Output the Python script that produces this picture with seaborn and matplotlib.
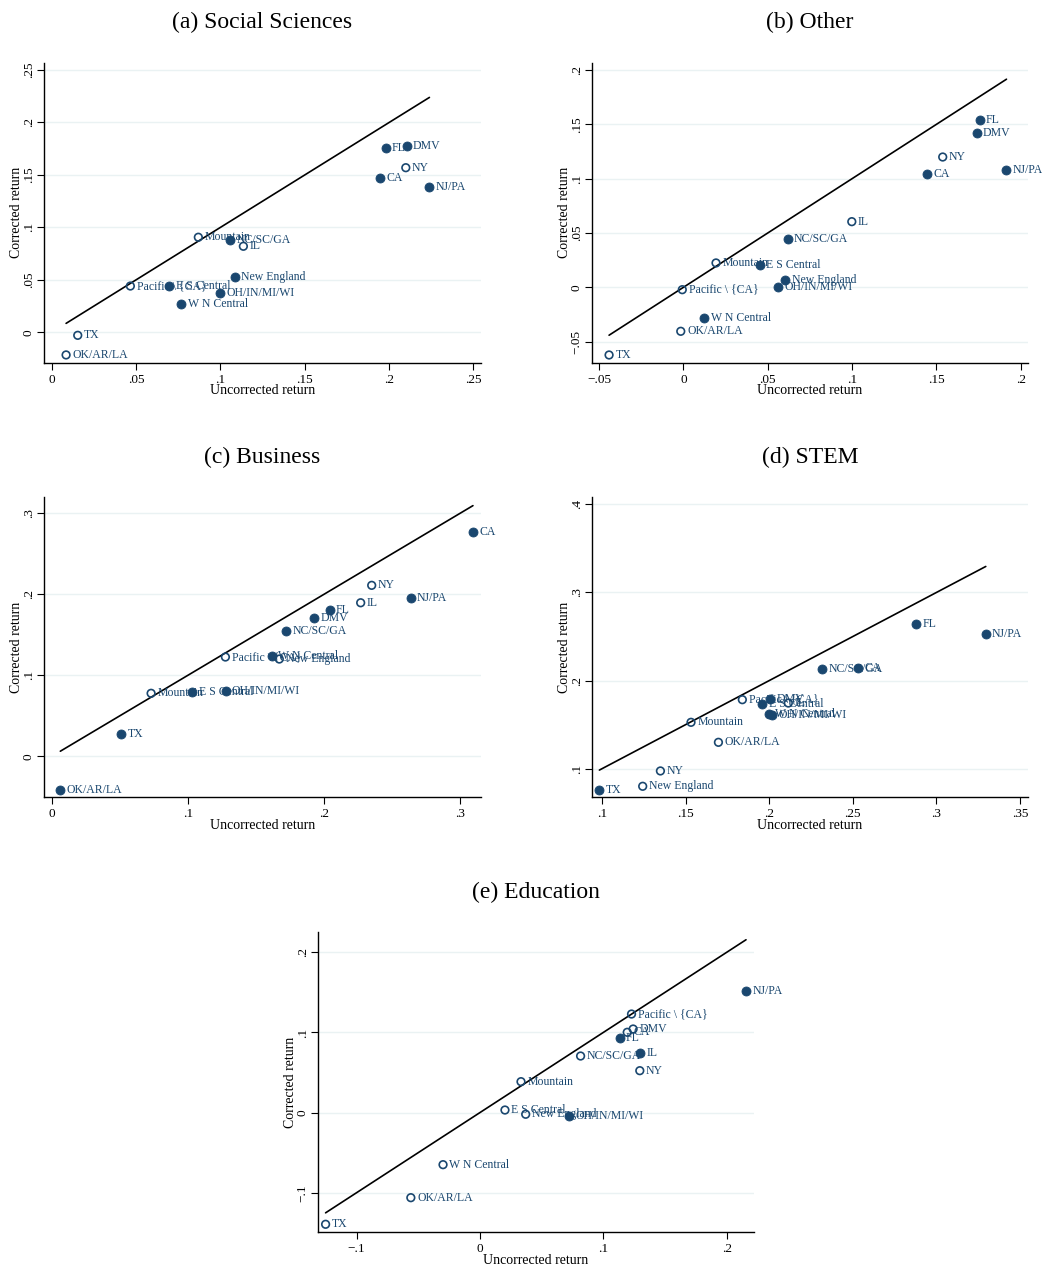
import matplotlib
matplotlib.use("Agg")
import matplotlib.pyplot as plt
from matplotlib.ticker import FixedLocator, FuncFormatter
import numpy as np
import pandas as pd
import seaborn as sns

sns.set_theme(style="white")
plt.rcParams["font.family"] = ["Liberation Serif", "DejaVu Serif"]

NAVY = "#1a476f"

# Region labels shared by all panels
regions = ["FL", "DMV", "NY", "CA", "NJ/PA", "Mountain", "NC/SC/GA", "IL",
           "New England", "Pacific \\ {CA}", "E S Central", "OH/IN/MI/WI",
           "W N Central", "TX", "OK/AR/LA"]

# (a) Social Sciences
soc_unc = [0.198, 0.2105, 0.2099, 0.1945, 0.2239, 0.0869, 0.1057, 0.1136,
           0.1087, 0.0466, 0.0697, 0.1000, 0.0769, 0.0154, 0.0085]
soc_cor = [0.1754, 0.1776, 0.1569, 0.1474, 0.1388, 0.0906, 0.0883, 0.0820,
           0.0527, 0.0441, 0.0441, 0.0372, 0.0267, -0.0029, -0.0216]
soc_sig = [1, 1, 0, 1, 1, 0, 1, 0, 1, 0, 1, 1, 1, 0, 0]

# (b) Other
oth_unc = [0.1757, 0.1739, 0.1537, 0.1446, 0.1915, 0.0193, 0.0618, 0.0998,
           0.0604, -0.0007, 0.0454, 0.0561, 0.0124, -0.0441, -0.0016]
oth_cor = [0.1537, 0.1417, 0.1199, 0.1043, 0.1082, 0.0224, 0.0444, 0.0604,
           0.0070, -0.0022, 0.0205, 0.0006, -0.0285, -0.0623, -0.0405]
oth_sig = [1, 1, 0, 1, 1, 0, 1, 0, 1, 0, 1, 1, 1, 0, 0]

# (c) Business
bus_unc = [0.2042, 0.1927, 0.2351, 0.3095, 0.2638, 0.0730, 0.1724, 0.2270,
           0.1672, 0.1276, 0.1033, 0.1278, 0.1619, 0.0511, 0.0063]
bus_cor = [0.1806, 0.1708, 0.2111, 0.2765, 0.1951, 0.0778, 0.1547, 0.1896,
           0.1201, 0.1226, 0.0790, 0.0802, 0.1242, 0.0276, -0.0416]
bus_sig = [1, 1, 0, 1, 1, 0, 1, 0, 0, 0, 1, 1, 1, 1, 1]

# (d) STEM
stem_unc = [0.2878, 0.2005, 0.1349, 0.2531, 0.3295, 0.1532, 0.2318, 0.2114,
            0.1243, 0.1839, 0.1959, 0.2019, 0.1999, 0.0984, 0.1696]
stem_cor = [0.2642, 0.1791, 0.0974, 0.2146, 0.2532, 0.1526, 0.2128, 0.1745,
            0.0800, 0.1783, 0.1738, 0.1606, 0.1624, 0.0758, 0.1299]
stem_sig = [1, 1, 0, 1, 1, 0, 1, 0, 0, 0, 1, 1, 1, 1, 0]

# (e) Education
edu_unc = [0.1134, 0.1242, 0.1296, 0.1194, 0.2157, 0.0333, 0.0816, 0.1299,
           0.0371, 0.1229, 0.0203, 0.0724, -0.0299, -0.1251, -0.0560]
edu_cor = [0.0931, 0.1043, 0.0523, 0.1002, 0.1514, 0.0386, 0.0706, 0.0748,
           -0.0021, 0.1230, 0.0032, -0.0039, -0.0650, -0.1394, -0.1062]
edu_sig = [1, 0, 0, 0, 1, 0, 0, 1, 0, 0, 0, 1, 0, 0, 0]

panels = [
    ("(a) Social Sciences", soc_unc, soc_cor, soc_sig,
     (-0.0046, 0.2543), (-0.029, 0.257),
     [0, 0.05, 0.1, 0.15, 0.2, 0.25], [0, 0.05, 0.1, 0.15, 0.2, 0.25],
     (44, 62.7)),
    ("(b) Other", oth_unc, oth_cor, oth_sig,
     (-0.0544, 0.2045), (-0.0694, 0.2067),
     [-0.05, 0, 0.05, 0.1, 0.15, 0.2], [-0.05, 0, 0.05, 0.1, 0.15, 0.2],
     (591.7, 62.7)),
    ("(c) Business", bus_unc, bus_cor, bus_sig,
     (-0.0057, 0.3152), (-0.0506, 0.3198),
     [0, 0.1, 0.2, 0.3], [0, 0.1, 0.2, 0.3],
     (44, 497.3)),
    ("(d) STEM", stem_unc, stem_cor, stem_sig,
     (0.0938, 0.355), (0.0675, 0.408),
     [0.1, 0.15, 0.2, 0.25, 0.3, 0.35], [0.1, 0.2, 0.3, 0.4],
     (591.7, 497.3)),
    ("(e) Education", edu_unc, edu_cor, edu_sig,
     (-0.1315, 0.2225), (-0.1494, 0.225),
     [-0.1, 0, 0.1, 0.2], [-0.1, 0, 0.1, 0.2],
     (317.7, 932.3)),
]

W, H = 1042, 1266
AX_W, AX_H = 436.7, 300.0


def stata_fmt(v, pos=None):
    if abs(v) < 1e-12:
        return "0"
    s = f"{abs(v):g}"
    if s.startswith("0."):
        s = s[1:]
    return ("\u2212" + s) if v < 0 else s


fig = plt.figure(figsize=(W / 100, H / 100), dpi=100)

for title, unc, cor, sig, xlim, ylim, xt, yt, (left, top) in panels:
    ax = fig.add_axes([left / W, 1 - (top + AX_H) / H, AX_W / W, AX_H / H])
    df = pd.DataFrame({"region": regions, "unc": unc, "cor": cor,
                       "sig": sig})

    # 45-degree reference line across the range of uncorrected returns
    lo, hi = df["unc"].min(), df["unc"].max()
    ref = pd.DataFrame({"x": [lo, hi], "y": [lo, hi]})
    sns.lineplot(data=ref, x="x", y="y", ax=ax, color="black",
                 linewidth=1.2, zorder=2)

    filled = df[df["sig"] == 1]
    hollow = df[df["sig"] == 0]
    sns.scatterplot(data=filled, x="unc", y="cor", ax=ax, s=42,
                    color=NAVY, edgecolor=NAVY, linewidth=0.6, zorder=3)
    sns.scatterplot(data=hollow, x="unc", y="cor", ax=ax, s=30,
                    facecolor="none", edgecolor=NAVY, linewidth=1.2,
                    zorder=3)

    for _, r in df.iterrows():
        ax.annotate(r["region"], (r["unc"], r["cor"]),
                    xytext=(4.5, 0), textcoords="offset points",
                    ha="left", va="center", fontsize=8.5, color=NAVY,
                    zorder=4, annotation_clip=False)

    ax.set_xlim(*xlim)
    ax.set_ylim(*ylim)
    ax.xaxis.set_major_locator(FixedLocator(xt))
    ax.yaxis.set_major_locator(FixedLocator(yt))
    ax.xaxis.set_major_formatter(FuncFormatter(stata_fmt))
    ax.yaxis.set_major_formatter(FuncFormatter(stata_fmt))
    ax.tick_params(axis="x", which="major", direction="out", length=5,
                   width=0.8, color="black", labelsize=9.5, pad=3,
                   bottom=True, labelcolor="black")
    ax.tick_params(axis="y", which="major", direction="out", length=5,
                   width=0.8, color="black", labelsize=9.5, pad=1.5,
                   left=True, labelcolor="black")
    for lab in ax.get_yticklabels():
        lab.set_rotation(90)
        lab.set_va("center")

    ax.yaxis.grid(True, color="#eaf2f3", linewidth=1.0, zorder=0)
    ax.xaxis.grid(False)
    ax.set_axisbelow(True)
    for side in ("top", "right"):
        ax.spines[side].set_visible(False)
    for side in ("left", "bottom"):
        ax.spines[side].set_color("black")
        ax.spines[side].set_linewidth(1.0)

    ax.set_xlabel("Uncorrected return", fontsize=10, labelpad=-1,
                  color="black")
    ax.set_ylabel("Corrected return", fontsize=10, labelpad=0,
                  color="black")
    ax.set_title(title, fontsize=17, pad=25, color="black")

fig.savefig("out.png", dpi=100, facecolor="white")
